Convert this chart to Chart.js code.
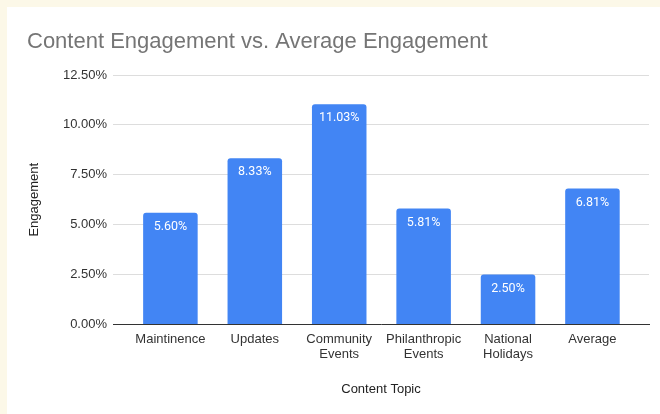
<!DOCTYPE html>
<html>
  <head>
    <title>Content Engagement vs. Average Engagement</title>
    <meta charset="utf-8" />
    <script src="https://cdn.jsdelivr.net/npm/chart.js"></script>
    <style>
      html, body { margin: 0; padding: 0; background: #fcf8e8; }
      #card {
        position: absolute;
        left: 7px;
        top: 7px;
        width: 653px;
        height: 407px;
        background: #ffffff;
      }
    </style>
  </head>
  <body>
    <div id="card">
      <canvas id="engagementChart"></canvas>
    </div>
    <script>
      // engagement per content topic (percent)
      const topics = [
        "Maintinence",
        "Updates",
        ["Community", "Events"],
        ["Philanthropic", "Events"],
        ["National", "Holidays"],
        "Average",
      ];
      const engagement = [5.60, 8.33, 11.03, 5.81, 2.50, 6.81];
      const yTicks = [0, 2.5, 5, 7.5, 10, 12.5];

      const sansFont = "'Liberation Sans', Arial, sans-serif";

      // white value labels near the top of each bar
      const barLabels = {
        id: "barLabels",
        afterDatasetsDraw(chart) {
          const ctx = chart.ctx;
          const meta = chart.getDatasetMeta(0);
          ctx.save();
          ctx.fillStyle = "#ffffff";
          ctx.font = "12.5px Roboto, sans-serif";
          ctx.textAlign = "center";
          ctx.textBaseline = "middle";
          meta.data.forEach((bar, i) => {
            ctx.fillText(engagement[i].toFixed(2) + "%", bar.x, bar.y + 14);
          });
          ctx.restore();
        },
      };

      const ctx = document.getElementById("engagementChart").getContext("2d");
      const engagementChart = new Chart(ctx, {
        type: "bar",
        data: {
          datasets: [
            {
              label: "Engagement",
              data: engagement.map((v, i) => ({ x: i, y: v })),
              backgroundColor: "#4285f4",
              borderRadius: 3,
              borderSkipped: "start",
              barPercentage: 0.646,
              categoryPercentage: 1,
            },
          ],
        },
        options: {
          responsive: true,
          maintainAspectRatio: false,
          animation: false,
          layout: { padding: { left: 20, right: 11, top: 0, bottom: 0 } },
          plugins: {
            legend: { display: false },
            tooltip: { enabled: false },
            title: {
              display: true,
              text: "Content Engagement vs. Average Engagement",
              align: "start",
              color: "#757575",
              font: { family: sansFont, size: 22, weight: "normal" },
              padding: { top: 22, bottom: 19.6 },
            },
          },
          scales: {
            x: {
              type: "linear",
              offset: false,
              min: -0.68,
              max: 5.67,
              afterBuildTicks: (scale) => {
                scale.ticks = topics.map((_, i) => ({ value: i }));
              },
              afterFit: (scale) => {
                scale.height = 89.5;
              },
              grid: { display: false, drawTicks: false },
              border: { display: true, color: "#333333", width: 1, z: 1 },
              ticks: {
                autoSkip: false,
                maxRotation: 0,
                padding: 7.3,
                color: "#333333",
                font: { family: sansFont, size: 13, lineHeight: "15px" },
                callback: (value) => topics[value],
              },
              title: {
                display: true,
                text: "Content Topic",
                color: "#222222",
                font: { family: sansFont, size: 13 },
                padding: { top: 0, bottom: 17 },
              },
            },
            y: {
              min: 0,
              max: 12.5,
              afterBuildTicks: (scale) => {
                scale.ticks = yTicks.map((v) => ({ value: v }));
              },
              afterFit: (scale) => {
                scale.width = 86;
              },
              grid: { color: "#dddddd", drawTicks: false },
              border: { display: false },
              ticks: {
                padding: 6,
                color: "#333333",
                font: { family: sansFont, size: 13 },
                callback: (value) => value.toFixed(2) + "%",
              },
              title: {
                display: true,
                text: "Engagement",
                color: "#222222",
                font: { family: sansFont, size: 13 },
                padding: { top: 0, bottom: 0 },
              },
            },
          },
        },
        plugins: [barLabels],
      });
    </script>
  </body>
</html>
